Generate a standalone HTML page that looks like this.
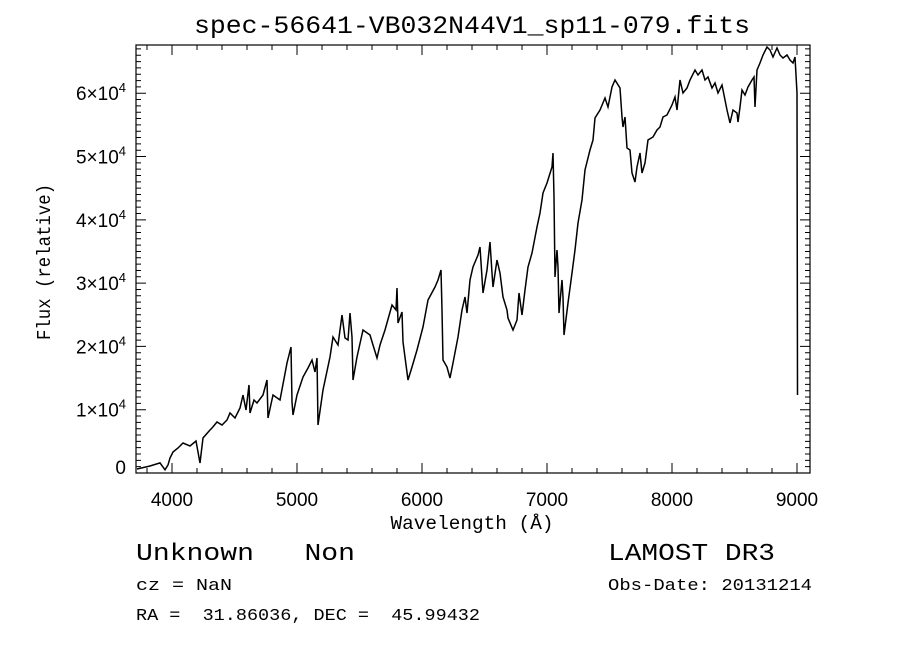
<!DOCTYPE html>
<html><head><meta charset="utf-8"><style>
html,body{margin:0;padding:0;background:#fff}
svg{display:block}
text{fill:#000;white-space:pre}
</style></head><body>
<svg id="chart" width="900" height="649" viewBox="0 0 900 649" xmlns="http://www.w3.org/2000/svg">
<text x="472" y="33" font-family="Liberation Mono, monospace" font-size="25" text-anchor="middle" textLength="556" lengthAdjust="spacingAndGlyphs">spec-56641-VB032N44V1_sp11-079.fits</text>
<g id="axes"></g>
<path id="spec" fill="none" stroke="#000" stroke-width="1.5" stroke-linejoin="miter"/>
<text x="472" y="529" font-family="Liberation Mono, monospace" font-size="19" text-anchor="middle" textLength="163" lengthAdjust="spacingAndGlyphs">Wavelength (Å)</text>
<text transform="translate(50,262) rotate(-90)" font-family="Liberation Mono, monospace" font-size="19" text-anchor="middle" textLength="156" lengthAdjust="spacingAndGlyphs">Flux (relative)</text>
<text x="136" y="560" font-family="Liberation Mono, monospace" font-size="24" textLength="219" lengthAdjust="spacingAndGlyphs" xml:space="preserve">Unknown   Non</text>
<text x="608" y="560" font-family="Liberation Mono, monospace" font-size="24" textLength="167" lengthAdjust="spacingAndGlyphs">LAMOST DR3</text>
<text x="136" y="590" font-family="Liberation Mono, monospace" font-size="17" textLength="96" lengthAdjust="spacingAndGlyphs">cz = NaN</text>
<text x="608" y="590" font-family="Liberation Mono, monospace" font-size="17" textLength="204" lengthAdjust="spacingAndGlyphs">Obs-Date: 20131214</text>
<text x="136" y="620" font-family="Liberation Mono, monospace" font-size="17" textLength="344" lengthAdjust="spacingAndGlyphs" xml:space="preserve">RA =  31.86036, DEC =  45.99432</text>
</svg>
<script>
const wavelengths=[3720,3824,3904,3944,3968,3984,4008,4048,4088,4144,4192,4224,4248,4304,4320,4360,4400,4440,4464,4504,4544,4568,4592,4616,4624,4656,4680,4728,4760,4768,4808,4864,4920,4952,4960,4968,5000,5048,5088,5120,5144,5160,5168,5208,5264,5288,5328,5360,5384,5408,5424,5440,5448,5480,5528,5584,5608,5640,5664,5704,5760,5792,5800,5808,5840,5848,5888,5920,5960,6008,6048,6104,6128,6152,6160,6168,6200,6224,6248,6288,6320,6344,6360,6384,6408,6448,6464,6488,6520,6544,6560,6568,6600,6624,6648,6680,6688,6728,6760,6776,6800,6824,6848,6880,6920,6944,6968,7000,7040,7048,7056,7064,7080,7088,7096,7120,7128,7136,7168,7200,7224,7248,7280,7304,7344,7368,7384,7424,7464,7488,7520,7544,7584,7600,7608,7624,7640,7664,7680,7704,7720,7744,7760,7784,7808,7848,7880,7904,7928,7960,8000,8024,8040,8064,8088,8120,8144,8184,8208,8240,8264,8288,8320,8344,8368,8400,8424,8440,8464,8488,8520,8528,8544,8560,8584,8608,8640,8656,8664,8680,8704,8728,8760,8784,8808,8840,8864,8888,8920,8944,8968,8984,9000,9004];
const fluxes=[630,1100,1600,500,1260,2370,3320,3950,4740,4270,5060,1580,5530,6790,7110,8060,7580,8370,9480,8690,10270,12320,9950,13900,9480,11530,11060,12320,14690,8690,12320,11530,17380,19910,11220,9160,12320,15170,16590,17850,15960,18170,7580,13110,18330,21490,20220,24960,21330,21010,25280,21490,14690,18330,22590,21800,20220,18170,20220,22590,26540,25750,29230,23700,25440,20700,14690,16750,19430,23070,27330,29390,30490,32070,25750,17850,16750,15010,17380,21490,25750,27810,25280,30490,32550,34440,35710,28440,32070,36500,31600,29390,33650,31600,27810,25750,24490,22590,24170,28440,24960,28910,32550,34760,38870,41080,44240,45820,48350,50560,43610,30970,35230,32550,25280,30490,27810,21800,26860,31600,35230,39500,43130,47870,51030,52610,56090,57350,59250,57830,60990,62090,60830,56250,54670,56250,51350,51030,47400,45980,48350,50560,47400,48980,52610,53090,54190,54670,56250,56560,58140,59410,57350,62090,60040,60830,62090,63670,62880,63670,62090,62570,60830,61620,60040,61300,58930,57350,55300,57350,56880,55460,57830,60510,59720,60990,62090,62570,57830,63670,64780,66040,67310,66830,65730,67150,66040,65570,66040,65250,64780,65730,60040,12320];
const xTicks=[4000,5000,6000,7000,8000,9000];
const yTicks=[0,1,2,3,4,5,6];
const xDomain=[3712,9104], yDomain=[0,67620];
const L=136,R=810,T=45,B=473;
const sx=v=>L+(v-xDomain[0])/(xDomain[1]-xDomain[0])*(R-L);
const sy=v=>B-(v-yDomain[0])/(yDomain[1]-yDomain[0])*(B-T);
const NS='http://www.w3.org/2000/svg';
const axes=document.getElementById('axes');
function mk(tag,attrs,parent){const e=document.createElementNS(NS,tag);for(const k in attrs)e.setAttribute(k,attrs[k]);(parent||axes).appendChild(e);return e;}
const frame=mk('rect',{x:L,y:T,width:R-L,height:B-T,fill:'none',stroke:'#000','stroke-width':1.2});


let d='';
for(let w=3800;w<=9100;w+=200){const x=sx(w);const len=(w%1000===0)?10:5;d+=`M${x},${B}v${-len}M${x},${T}v${len}`;}
for(let f=0;f<=67000;f+=1000){const y=sy(f);const len=(f%10000===0)?10:5;d+=`M${L},${y}h${len}M${R},${y}h${-len}`;}
const ticks=mk('path',{d:d,stroke:'#000','stroke-width':1,fill:'none'});


xTicks.forEach(w=>{const t=mk('text',{x:sx(w),y:B+33,'font-family':'Liberation Sans, sans-serif','font-size':19,'text-anchor':'middle'});t.textContent=String(w);

});
yTicks.forEach(v=>{const y=Math.min(sy(v*10000),B-6);const t=mk('text',{x:126,y:y+7,'font-family':'Liberation Sans, sans-serif','font-size':19,'text-anchor':'end'});


if(v===0){t.textContent='0';}else{t.textContent=v+'×10';const s=document.createElementNS(NS,'tspan');s.setAttribute('font-size',13);s.setAttribute('dy',-8);s.textContent='4';t.appendChild(s);}});
let p='';
wavelengths.forEach((w,i)=>{const y=Math.max(sy(fluxes[i]),T);p+=(i?'L':'M')+sx(w).toFixed(1)+','+y.toFixed(1);});
document.getElementById('spec').setAttribute('d',p);
</script>
</body></html>
